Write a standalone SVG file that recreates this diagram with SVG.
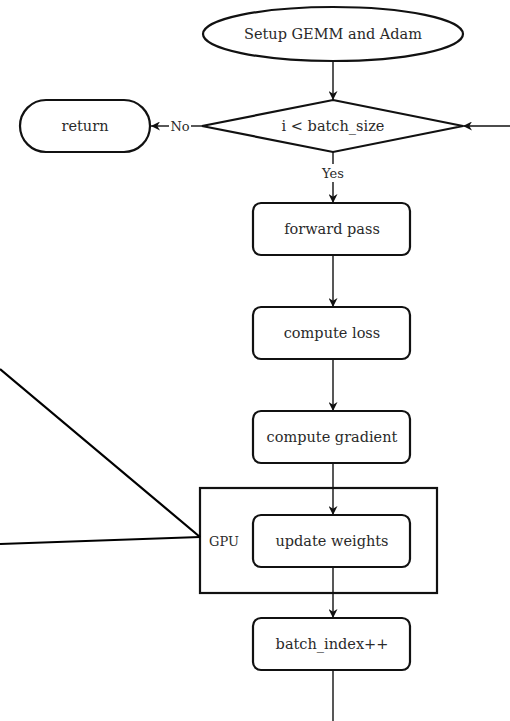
<svg xmlns="http://www.w3.org/2000/svg" width="510" height="721" viewBox="0 0 510 721">
  <defs>
    <marker id="arrow" viewBox="0 0 10 10" refX="10" refY="5" markerWidth="9" markerHeight="9" markerUnits="userSpaceOnUse" orient="auto">
      <path d="M0,0 L10,5 L0,10 L3,5 Z" fill="#111"/>
    </marker>
    <style>
      .shape { fill: #fff; stroke: #111; stroke-width: 2.2; }
      .frame { fill: none; stroke: #111; stroke-width: 2.2; }
      .edge { fill: none; stroke: #111; stroke-width: 1.4; }
      .pointer { fill: none; stroke: #000; stroke-width: 2.2; }
      text { font-family: "DejaVu Serif", "Liberation Serif", serif; font-size: 14.5px; fill: #2a2a2a; text-anchor: middle; dominant-baseline: central; }
      .small { font-size: 13px; }
    </style>
  </defs>
  <rect width="510" height="721" fill="#fff"/>

  <!-- GPU container -->
  <g id="gpu">
    <rect class="frame" x="200" y="488" width="237" height="105"/>
    <text x="224" y="541" class="small">GPU</text>
  </g>

  <g id="connectors">
    <line class="edge" x1="333" y1="61" x2="333" y2="100" marker-end="url(#arrow)"/>
    <line class="edge" x1="510" y1="126" x2="463" y2="126" marker-end="url(#arrow)"/>
    <line class="edge" x1="202" y1="126" x2="191" y2="126"/>
    <line class="edge" x1="169" y1="126" x2="151" y2="126" marker-end="url(#arrow)"/>
    <line class="edge" x1="333" y1="152" x2="333" y2="164"/>
    <line class="edge" x1="333" y1="182" x2="333" y2="203" marker-end="url(#arrow)"/>
    <line class="edge" x1="333" y1="255" x2="333" y2="307" marker-end="url(#arrow)"/>
    <line class="edge" x1="333" y1="359" x2="333" y2="411" marker-end="url(#arrow)"/>
    <line class="edge" x1="333" y1="463" x2="333" y2="515" marker-end="url(#arrow)"/>
    <line class="edge" x1="333" y1="567" x2="333" y2="618" marker-end="url(#arrow)"/>
    <line class="edge" x1="333" y1="670" x2="333" y2="721"/>
    <text x="180" y="126" class="small">No</text>
    <text x="333" y="173" class="small">Yes</text>
  </g>

  <g id="setup">
    <ellipse class="shape" cx="333" cy="34" rx="130" ry="27"/>
    <text x="333" y="34">Setup GEMM and Adam</text>
  </g>

  <g id="loop-check">
    <polygon class="shape" points="333,100 463,126 333,152 202,126"/>
    <text x="333" y="126">i &lt; batch_size</text>
  </g>

  <g id="return">
    <rect class="shape" x="20" y="100" width="130" height="52" rx="26" ry="26"/>
    <text x="85" y="126">return</text>
  </g>

  <g id="forward-pass">
    <rect class="shape" x="253" y="203" width="157" height="52" rx="8"/>
    <text x="332" y="229">forward pass</text>
  </g>

  <g id="compute-loss">
    <rect class="shape" x="253" y="307" width="157" height="52" rx="8"/>
    <text x="332" y="333">compute loss</text>
  </g>

  <g id="compute-gradient">
    <rect class="shape" x="253" y="411" width="157" height="52" rx="8"/>
    <text x="332" y="437">compute gradient</text>
  </g>

  <g id="update-weights">
    <rect class="shape" x="253" y="515" width="157" height="52" rx="8"/>
    <text x="332" y="541">update weights</text>
  </g>

  <g id="batch-index">
    <rect class="shape" x="253" y="618" width="157" height="52" rx="8"/>
    <text x="332" y="644">batch_index++</text>
  </g>

  <!-- lines converging on the GPU frame -->
  <g id="pointer-lines">
    <line class="pointer" x1="0" y1="369" x2="200" y2="537"/>
    <line class="pointer" x1="0" y1="544" x2="200" y2="537"/>
  </g>
</svg>
